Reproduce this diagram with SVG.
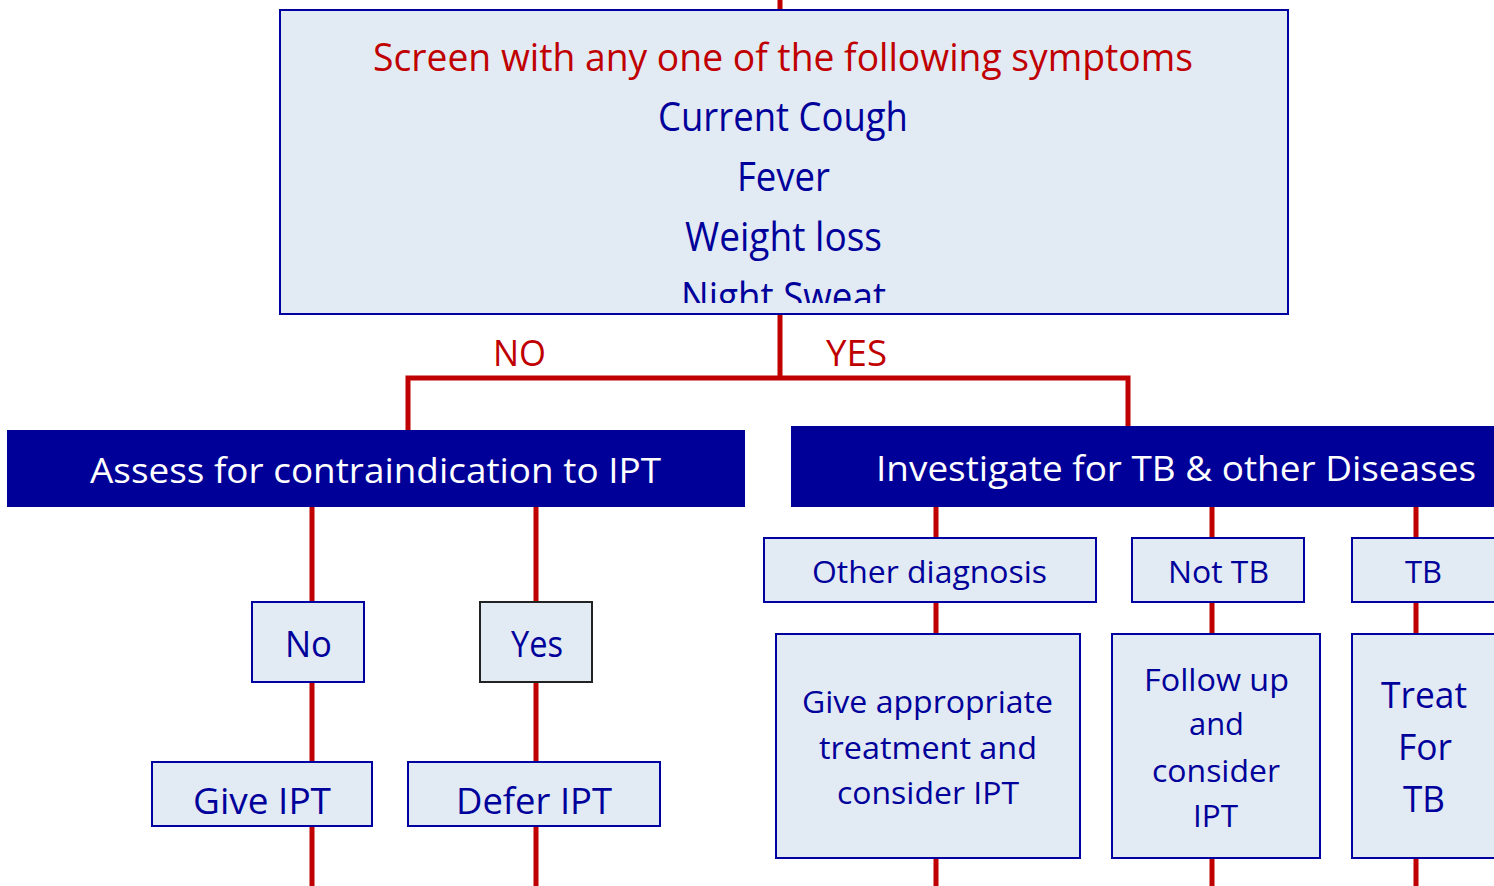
<svg xmlns="http://www.w3.org/2000/svg" width="1494" height="886" viewBox="0 0 1494 886">
<style>
.box{fill:#E2EAF4;stroke:#0000A0;stroke-width:2}
.dark{fill:#000099;stroke:none}
.wire{stroke:#C00000;stroke-width:5;fill:none}
text{font-family:"Open Sans","Noto Sans","Liberation Sans",sans-serif;text-anchor:middle}
.b{fill:#00009A}
.r{fill:#C00000}
.w{fill:#FFFFFF}
</style>
<defs>
<clipPath id="topclip"><rect x="280" y="10" width="1008" height="293"/></clipPath>
</defs>
<rect width="1494" height="886" fill="#FFFFFF"/>
<g id="connectors">
<line class="wire" x1="780" y1="0" x2="780" y2="378"/>
<polyline class="wire" points="408,430 408,378 1128,378 1128,426"/>
<line class="wire" x1="312" y1="507" x2="312" y2="886"/>
<line class="wire" x1="536" y1="507" x2="536" y2="886"/>
<line class="wire" x1="936" y1="507" x2="936" y2="886"/>
<line class="wire" x1="1212" y1="507" x2="1212" y2="886"/>
<line class="wire" x1="1416" y1="507" x2="1416" y2="886"/>
</g>
<g id="screen">
<rect class="box" x="280" y="10" width="1008" height="304"/>
<g clip-path="url(#topclip)">
<text class="r" x="783" y="71" font-size="39" textLength="820" lengthAdjust="spacingAndGlyphs">Screen with any one of the following symptoms</text>
<text class="b" x="783" y="131" font-size="40" textLength="250" lengthAdjust="spacingAndGlyphs">Current Cough</text>
<text class="b" x="783.5" y="191" font-size="40" textLength="93" lengthAdjust="spacingAndGlyphs">Fever</text>
<text class="b" x="783.5" y="251" font-size="40" textLength="197" lengthAdjust="spacingAndGlyphs">Weight loss</text>
<text class="b" x="783.5" y="311" font-size="40" textLength="205" lengthAdjust="spacingAndGlyphs">Night Sweat</text>
</g>
</g>
<g id="label-no"><text class="r" x="519.5" y="366" font-size="37" textLength="53" lengthAdjust="spacingAndGlyphs">NO</text></g>
<g id="label-yes"><text class="r" x="856.5" y="366" font-size="37" textLength="61" lengthAdjust="spacingAndGlyphs">YES</text></g>
<g id="assess">
<rect class="dark" x="7" y="430" width="738" height="77"/>
<text class="w" x="375.5" y="483" font-size="35" textLength="571" lengthAdjust="spacingAndGlyphs">Assess for contraindication to IPT</text>
</g>
<g id="investigate">
<rect class="dark" x="791" y="426" width="710" height="81"/>
<text class="w" x="1176" y="481" font-size="35" textLength="600" lengthAdjust="spacingAndGlyphs">Investigate for TB &amp; other Diseases</text>
</g>
<g id="no">
<rect class="box" x="252" y="602" width="112" height="80"/>
<text class="b" x="308.5" y="657" font-size="37" textLength="47" lengthAdjust="spacingAndGlyphs">No</text>
</g>
<g id="yes">
<rect class="box" x="480" y="602" width="112" height="80" style="stroke:#222222"/>
<text class="b" x="537" y="657" font-size="37" textLength="52" lengthAdjust="spacingAndGlyphs">Yes</text>
</g>
<g id="give-ipt">
<rect class="box" x="152" y="762" width="220" height="64"/>
<text class="b" x="262" y="814" font-size="36" textLength="138" lengthAdjust="spacingAndGlyphs">Give IPT</text>
</g>
<g id="defer-ipt">
<rect class="box" x="408" y="762" width="252" height="64"/>
<text class="b" x="534" y="814" font-size="36" textLength="156" lengthAdjust="spacingAndGlyphs">Defer IPT</text>
</g>
<g id="other-diagnosis">
<rect class="box" x="764" y="538" width="332" height="64"/>
<text class="b" x="929.5" y="583" font-size="31" textLength="235" lengthAdjust="spacingAndGlyphs">Other diagnosis</text>
</g>
<g id="not-tb">
<rect class="box" x="1132" y="538" width="172" height="64"/>
<text class="b" x="1218.5" y="583" font-size="31" textLength="101" lengthAdjust="spacingAndGlyphs">Not TB</text>
</g>
<g id="tb">
<rect class="box" x="1352" y="538" width="150" height="64"/>
<text class="b" x="1423.5" y="583" font-size="31" textLength="37" lengthAdjust="spacingAndGlyphs">TB</text>
</g>
<g id="give-appropriate">
<rect class="box" x="776" y="634" width="304" height="224"/>
<text class="b" x="927.5" y="713" font-size="31" textLength="251" lengthAdjust="spacingAndGlyphs">Give appropriate</text>
<text class="b" x="928" y="759" font-size="31" textLength="218" lengthAdjust="spacingAndGlyphs">treatment and</text>
<text class="b" x="928" y="804" font-size="31" textLength="182" lengthAdjust="spacingAndGlyphs">consider IPT</text>
</g>
<g id="follow-up">
<rect class="box" x="1112" y="634" width="208" height="224"/>
<text class="b" x="1216.5" y="691" font-size="31" textLength="145" lengthAdjust="spacingAndGlyphs">Follow up</text>
<text class="b" x="1216.5" y="735" font-size="31" textLength="55" lengthAdjust="spacingAndGlyphs">and</text>
<text class="b" x="1216" y="782" font-size="31" textLength="128" lengthAdjust="spacingAndGlyphs">consider</text>
<text class="b" x="1215.5" y="827" font-size="31" textLength="45" lengthAdjust="spacingAndGlyphs">IPT</text>
</g>
<g id="treat-tb">
<rect class="box" x="1352" y="634" width="150" height="224"/>
<text class="b" x="1424" y="708" font-size="36" textLength="86" lengthAdjust="spacingAndGlyphs">Treat</text>
<text class="b" x="1425" y="760" font-size="36" textLength="54" lengthAdjust="spacingAndGlyphs">For</text>
<text class="b" x="1424" y="812" font-size="36" textLength="42" lengthAdjust="spacingAndGlyphs">TB</text>
</g>
</svg>
